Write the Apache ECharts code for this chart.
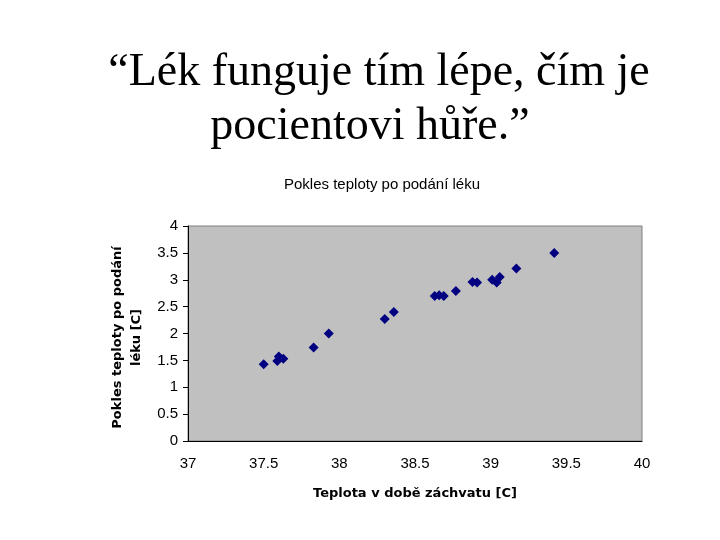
<!DOCTYPE html>
<html><head><meta charset="utf-8">
<script src="https://cdn.jsdelivr.net/npm/echarts@6/dist/echarts.min.js"></script>
<style>html,body{margin:0;padding:0;background:#fff}#c{width:720px;height:540px}</style>
</head><body><div id="c"></div>
<script>
var feverTemp = [37.50, 37.60, 37.59, 37.63, 37.83, 37.93, 38.30, 38.36, 38.63, 38.66, 38.69, 38.77, 38.88, 38.91, 39.01, 39.04, 39.06, 39.17, 39.42];
var tempDrop  = [1.43, 1.57, 1.49, 1.53, 1.74, 2.00, 2.27, 2.40, 2.70, 2.71, 2.70, 2.79, 2.96, 2.95, 3.00, 2.95, 3.05, 3.21, 3.50];
var xTicks = [37, 37.5, 38, 38.5, 39, 39.5, 40];
var yTicks = [0, 0.5, 1, 1.5, 2, 2.5, 3, 3.5, 4];

var points = feverTemp.map(function(x, i){ return [x, tempDrop[i]]; });
var chart = echarts.init(document.getElementById('c'), null, {renderer:'canvas'});
var bigTitle = {fontFamily: 'Liberation Serif', fontSize: 46, fontWeight: 'normal', color: '#000'};
chart.setOption({
  animation: false,
  backgroundColor: '#ffffff',
  title: [
    {text: '\u201cLék funguje tím lépe, čím je', left: 374, top: 45, textAlign: 'center', textStyle: bigTitle},
    {text: 'pocientovi hůře.\u201d', left: 365, top: 99, textAlign: 'center', textStyle: bigTitle},
    {text: 'Pokles teploty po podání léku', left: 377, top: 172, textAlign: 'center',
     textStyle: {fontFamily: 'Liberation Sans', fontSize: 15, fontWeight: 'normal', color: '#000'}}
  ],
  grid: {left: 188, right: 78, top: 226, bottom: 99, show: true, backgroundColor: '#c0c0c0', borderColor: '#808080', borderWidth: 1},
  xAxis: {
    type: 'value', min: 37, max: 40, interval: 0.5,
    name: 'Teplota v době záchvatu [C]', nameLocation: 'middle', nameGap: 46,
    nameTextStyle: {fontFamily: 'DejaVu Sans', fontSize: 13, fontWeight: 'bold', color: '#000'},
    axisLine: {show: true, onZero: false, lineStyle: {color: '#000', width: 1}},
    axisTick: {show: false},
    splitLine: {show: false},
    axisLabel: {margin: 15, fontFamily: 'Liberation Sans', fontSize: 15, color: '#000',
      formatter: function(v){ return xTicks.indexOf(v) >= 0 ? String(v) : ''; }}
  },
  yAxis: {
    type: 'value', min: 0, max: 4, interval: 0.5,
    name: 'Pokles teploty po podání\nléku [C]', nameLocation: 'middle', nameGap: 41, nameRotate: 90,
    nameTextStyle: {fontFamily: 'DejaVu Sans', fontSize: 13, fontWeight: 'bold', color: '#000', lineHeight: 19, padding: [0, 8, 0, 0]},
    axisLine: {show: true, onZero: false, lineStyle: {color: '#000', width: 1}},
    axisTick: {show: true, length: 5, lineStyle: {color: '#000'}},
    splitLine: {show: false},
    axisLabel: {margin: 10, fontFamily: 'Liberation Sans', fontSize: 15, color: '#000',
      formatter: function(v){ return yTicks.indexOf(v) >= 0 ? String(v) : ''; }}
  },
  series: [{
    type: 'scatter', data: points, symbol: 'diamond', symbolSize: 10,
    itemStyle: {color: '#000080', opacity: 1}
  }]
});
</script></body></html>
